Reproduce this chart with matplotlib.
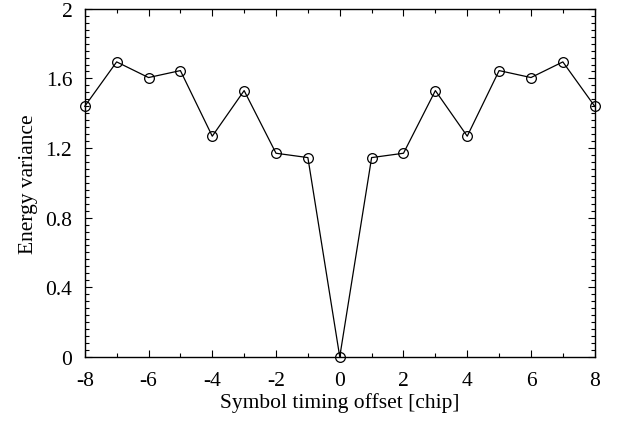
import matplotlib
matplotlib.use("Agg")
import matplotlib.pyplot as plt
from matplotlib.ticker import MultipleLocator

plt.rcParams['font.family'] = ['Liberation Serif', 'DejaVu Serif']
plt.rcParams['axes.unicode_minus'] = False

offsets = [-8, -7, -6, -5, -4, -3, -2, -1, 0, 1, 2, 3, 4, 5, 6, 7, 8]
variance = [1.44, 1.695, 1.605, 1.645, 1.268, 1.53, 1.17, 1.145, 0.0,
            1.145, 1.17, 1.53, 1.268, 1.645, 1.605, 1.695, 1.44]

fig = plt.figure(figsize=(6.28, 4.27), dpi=100)
ax = fig.add_axes([0.135, 0.162, 0.812, 0.815])

ax.plot(offsets, variance, color='black', linewidth=0.9,
        marker='o', markersize=7, markerfacecolor='none',
        markeredgecolor='black', markeredgewidth=0.9, clip_on=False)

ax.set_xlim(-8, 8)
ax.set_ylim(0, 2)
ax.xaxis.set_major_locator(MultipleLocator(2))
ax.xaxis.set_minor_locator(MultipleLocator(1))
ax.yaxis.set_minor_locator(MultipleLocator(0.04))
ax.set_yticks([0, 0.4, 0.8, 1.2, 1.6, 2])
ax.set_yticklabels(['0', '0.4', '0.8', '1.2', '1.6', '2'])

ax.tick_params(which='both', direction='in', top=True, right=True,
               labelsize=15.5)
ax.tick_params(axis='x', pad=10)
ax.tick_params(axis='y', pad=9)
ax.tick_params(which='major', length=5, width=0.8)
ax.tick_params(which='minor', length=3, width=0.8)
for s in ax.spines.values():
    s.set_linewidth(1.0)

ax.set_xlabel('Symbol timing offset [chip]', fontsize=15.5, labelpad=2)
ax.set_ylabel('Energy variance', fontsize=15.5, labelpad=5)

fig.savefig('out.png', dpi=100)
